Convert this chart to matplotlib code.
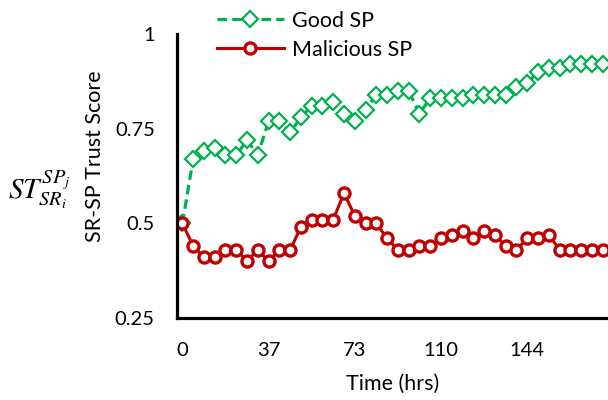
import matplotlib
matplotlib.use('Agg')
import matplotlib.pyplot as plt

# trust score per sample, 40 samples
good_sp = [0.50, 0.67, 0.69, 0.70, 0.68, 0.68, 0.72, 0.68, 0.77, 0.77,
           0.74, 0.78, 0.81, 0.81, 0.82, 0.79, 0.77, 0.80, 0.84, 0.84,
           0.85, 0.85, 0.79, 0.83, 0.83, 0.83, 0.83, 0.84, 0.84, 0.84,
           0.84, 0.86, 0.87, 0.90, 0.91, 0.91, 0.92, 0.92, 0.92, 0.92]
malicious_sp = [0.50, 0.44, 0.41, 0.41, 0.43, 0.43, 0.40, 0.43, 0.40, 0.43,
                0.43, 0.49, 0.51, 0.51, 0.51, 0.58, 0.52, 0.50, 0.50, 0.46,
                0.43, 0.43, 0.44, 0.44, 0.46, 0.47, 0.48, 0.46, 0.48, 0.47,
                0.44, 0.43, 0.46, 0.46, 0.47, 0.43, 0.43, 0.43, 0.43, 0.43]
time_ticks = [0, 8, 16, 24, 32]
time_labels = ['0', '37', '73', '110', '144']
y_ticks = [0.25, 0.5, 0.75, 1]
y_labels = ['0.25', '0.5', '0.75', '1']

plt.rcParams['font.family'] = ['Lato', 'DejaVu Sans']
plt.rcParams['mathtext.fontset'] = 'stix'

green = '#00B050'
red = '#C00000'

fig = plt.figure(figsize=(6.08, 4), dpi=100)
ax = fig.add_axes([177/608, 82/400, 431/608, 284/400])

idx = list(range(len(good_sp)))
ax.plot(idx, good_sp, ls='--', color=green, lw=2.3, marker='D', ms=8,
        mfc='white', mec=green, mew=1.6, label='Good SP', dashes=(3, 1.6))
ax.plot(idx, malicious_sp, ls='-', color=red, lw=2.2, marker='o', ms=8,
        mfc='white', mec=red, mew=2.4, label='Malicious SP')

ax.set_xlim(-0.5, len(good_sp) - 0.5)
ax.set_ylim(0.25, 1)
ax.set_xticks(time_ticks)
ax.set_xticklabels(time_labels)
ax.set_yticks(y_ticks)
ax.set_yticklabels(y_labels)
ax.tick_params(axis='both', length=0, labelsize=14.5)
ax.tick_params(axis='y', pad=16)
ax.tick_params(axis='x', pad=17)

for s in ['top', 'right']:
    ax.spines[s].set_visible(False)
for s in ['left', 'bottom']:
    ax.spines[s].set_linewidth(2.3)
    ax.spines[s].set_color('black')

ax.set_xlabel('Time (hrs)', fontsize=15.5, labelpad=11)

fig.text(95/608, 1 - 156/400, 'SR-SP Trust Score', rotation=90,
         ha='center', va='center', fontsize=15.5)
fig.text(8/608, 1 - 190/400, r'$ST_{SR_i}^{SP_j}$', ha='left', va='center',
         fontsize=21)

fig.legend(loc='upper left', bbox_to_anchor=(206/608, 1 - 0/400), frameon=False,
           fontsize=15.5, handlelength=3.1, labelspacing=0.42, borderpad=0,
           handletextpad=0.4)

plt.savefig('out.png')
plt.close()
